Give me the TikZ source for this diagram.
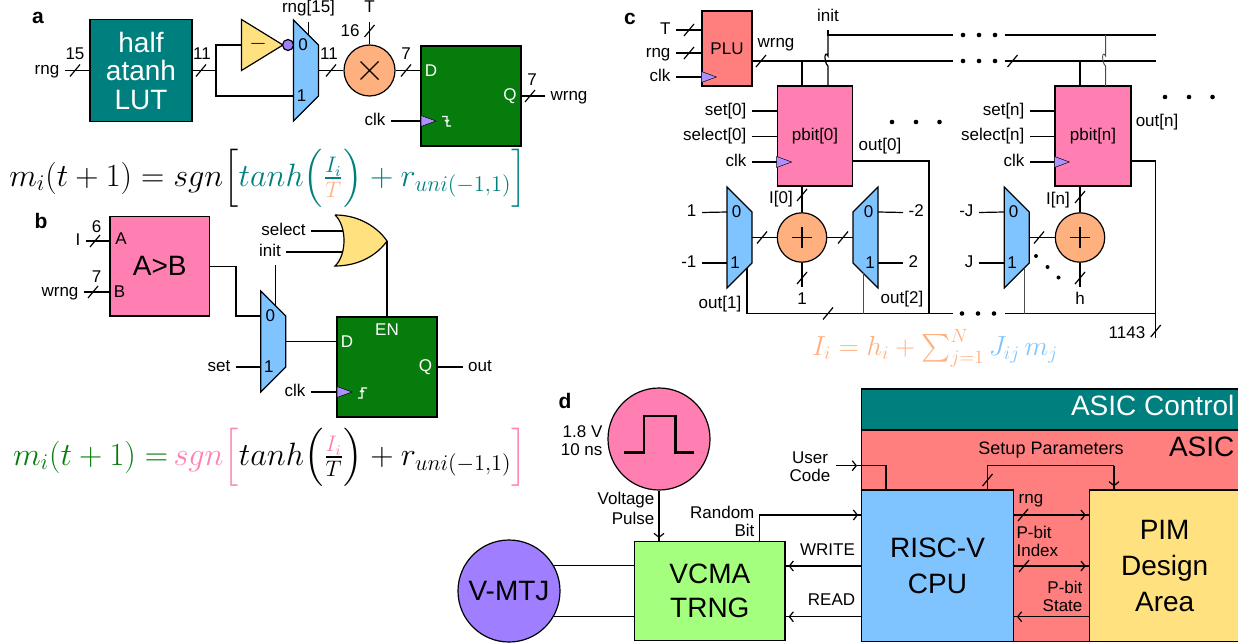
\documentclass[tikz,border=0pt]{standalone}
\usepackage{amsmath}
\usepackage[no-math]{fontspec}
\setmainfont{Liberation Sans}
\usetikzlibrary{arrows.meta, calc}
\definecolor{cteal}{HTML}{007F7F}
\definecolor{cgreen}{HTML}{067C0D}
\definecolor{cpink}{HTML}{FF7FB2}
\definecolor{csalmon}{HTML}{FF7F7F}
\definecolor{cblue}{HTML}{7FC4FF}
\definecolor{cyellow}{HTML}{FFE27F}
\definecolor{corange}{HTML}{FFB07F}
\definecolor{cpurple}{HTML}{9F7FFF}
\definecolor{clime}{HTML}{A5FF7F}

\begin{document}
\begin{tikzpicture}[x=1pt, y=-1pt, line width=1.2pt, font=\fontsize{17}{18}\selectfont,
    lbl/.style={inner sep=5pt, text height=12pt, text depth=3.5pt},
    txt/.style={inner sep=0pt, align=center},
    big/.style={font=\fontsize{28}{36}\selectfont, align=center, inner sep=0pt},
    panel/.style={font=\fontsize{21}{22}\selectfont\bfseries, inner sep=0pt},
    box/.style={draw, rectangle, inner sep=0pt},
    disc/.style={draw, circle, inner sep=0pt},
    whitetxt/.style={txt, text=white},
    thinwire/.style={line width=.9pt, black!70},
    arr/.style={postaction={draw, shorten >=3pt, -{Straight Barb[length=4pt, width=10pt]}}},
    busslash/.pic={\draw (-5,6) -- (5,-6);},
    clktri/.pic={\draw[fill=cpurple!85!white, line width=.5pt] (0,-5.5) -- (15,0) -- (0,5.5) -- cycle;},
    muxr/.pic={
      \draw[fill=cblue] (-12.5,-50.5) -- (12.5,-25.5) -- (12.5,25.5) -- (-12.5,50.5) -- cycle;
      \node[txt] at (-3,-25.5) {0};
      \node[txt] at (-4.5,25.5) {1};
      \coordinate (-in0) at (-12.5,-25.5);
      \coordinate (-in1) at (-12.5,25.5);
      \coordinate (-out) at (12.5,0);
      \coordinate (-t) at (2.5,-35.5);
      \coordinate (-b) at (2.5,35.5);
      \coordinate (-c) at (7.5,30.5);
    }]
    \useasboundingbox (0,0) rectangle (1238,644);

    % a
    \node[panel] (pa) at (38,18) {a};
    \node[box, fill=cteal, minimum width=102pt, minimum height=102pt, text=white, font=\fontsize{28}{28.5}\selectfont, align=center] (lut) at (141,70.5) {half\\atanh\\LUT};
    \node[lbl] (lrnga) at (47,70.5) {rng};
    \node[txt] (n15) at (75,54) {15};
    \node[txt] (n11a) at (202,54) {11};
    \coordinate (ja) at (216,70.5);
    \coordinate (invin) at (241.5,45);
    \pic (ma) at (306,70.5) {muxr};
    \draw (lrnga.east) -- (lrnga.east -| lut.west);
    \draw (lut.east) -- (ja);
    \draw (ja) |- (invin);
    \draw (ja) |- (ma-in1);
    \draw[fill=cyellow] (241.5,19.5) -- (283,45) -- (241.5,70.5) -- cycle;
    \node[txt, scale=1.3] (minus) at (258,44) {$-$};
    \node[disc, fill=cpurple, minimum size=11pt] (bub) at (288,45) {};
    \node[lbl] (lsela) at (308.5,8.5) {rng[15]};
    \draw (ma-t |- lsela.south) -- (ma-t);
    \node[disc, fill=corange, minimum size=51pt] (mula) at (369.5,70.5) {};
    \draw (mula.center) +(-9,-9) -- +(9,9) (mula.center) +(-9,9) -- +(9,-9);
    \node[lbl] (lTa) at (369.5,8.5) {T};
    \draw (lTa.south) -- (mula.north);
    \node[txt] (n16) at (350,31) {16};
    \node[box, fill=cgreen, minimum width=100pt, minimum height=100pt] (ffa) at (471,96) {};
    \draw (ma-out) -- (mula.west);
    \draw (mula.east) -- (mula.east -| ffa.west);
    \node[txt] (n11b) at (329,54) {11};
    \node[txt] (n7a) at (406,54) {7};
    \node[whitetxt] (da) at (431,71) {D};
    \node[whitetxt] (qa) at (510,96.5) {Q};
    \node[lbl] (lwrnga) at (569,96) {wrng};
    \draw (ffa.east) -- (lwrnga.west);
    \node[txt] (n7b) at (532,80) {7};
    \node[lbl] (lclka) at (375,121) {clk};
    \draw (lclka.east) -- (lclka.east -| ffa.west);
    \pic at (421,121) {clktri};
    \draw[white] (442,116.5) -- (447,116.5) -- (447,126) -- (451,126) (445,120) -- (447,122) -- (449,120);
    \foreach \x/\y in {75/70.5, 201/70.5, 331/70.5, 406/70.5, 530/96, 369.5/31} \pic at (\x,\y) {busslash};
    \node[scale=1.87] (eqa) at (268,178) {$m_i(t+1)=sgn\Bigl[\textcolor{cteal}{tanh\Bigl(\frac{I_i}{\textcolor{corange}{T}}\Bigr)+r_{uni(-1,1)}\Bigr]}$};

    % b
    \node[panel] (pb) at (41,221) {b};
    \node[box, fill=cpink, minimum width=99.5pt, minimum height=99.5pt, big] (cmp) at (159.75,266.25) {A>B};
    \node[lbl] (lI) at (78,241) {I};
    \node[lbl] (lwrngb) at (60,292) {wrng};
    \draw (lI.east) -- (lI.east -| cmp.west);
    \draw (lwrngb.east) -- (lwrngb.east -| cmp.west);
    \pic at (95,241) {busslash};
    \pic at (93,292) {busslash};
    \node[txt] (n6) at (96.5,227) {6};
    \node[txt] (n7c) at (96.5,277) {7};
    \node[txt] (ca) at (121,239) {A};
    \node[txt] (cb) at (119.5,292) {B};
    \pic (mb) at (273.25,341.5) {muxr};
    \coordinate (bw) at (236,316);
    \draw (cmp.east) -| (bw) -- (mb-in0);
    \node[lbl] (lselect) at (283.5,231) {select};
    \node[lbl] (linit) at (270,252) {init};
    \coordinate (orin1) at (343,231);
    \coordinate (orin2) at (344,252);
    \coordinate (ortip) at (387,241);
    \draw (lselect.east) -- (orin1);
    \draw (linit.east) -- (orin2);
    \draw (linit.south -| mb-t) -- (mb-t);
    \draw[fill=cyellow] (335,215) .. controls (360,215) and (378,228) .. (ortip) .. controls (378,254) and (360,266) .. (335,266) .. controls (347,255) and (347,226) .. (335,215);
    \node[box, fill=cgreen, minimum width=100pt, minimum height=100pt] (ffb) at (387,367) {};
    \draw (ortip) -- (ffb.north);
    \draw (mb-out) -- (mb-out -| ffb.west);
    \node[whitetxt] (db) at (347,342) {D};
    \node[whitetxt] (enb) at (387,329.5) {EN};
    \node[whitetxt] (qb) at (425.5,367) {Q};
    \node[lbl] (lout) at (480,367) {out};
    \draw (ffb.east) -- (lout.west);
    \node[lbl] (lset) at (219,367) {set};
    \draw (lset.east) -- (mb-in1);
    \node[lbl] (lclkb) at (295,392) {clk};
    \draw (lclkb.east) -- (lclkb.east -| ffb.west);
    \pic at (337,392) {clktri};
    \draw[white] (358,398) -- (362,398) -- (362,388) -- (367,388) (360,392) -- (362,390) -- (364,392);
    \node[scale=1.87] (eqb) at (270,457) {$\textcolor{cgreen}{m_i(t+1)=}\,\textcolor{cpink}{sgn\Bigl[}tanh\Bigl(\frac{\textcolor{cpink}{I_i}}{T}\Bigr)+r_{uni(-1,1)}\textcolor{cpink}{\Bigr]}$};

    % c
    \node[panel] (pc) at (630,19) {c};
    \node[box, fill=csalmon, minimum width=50pt, minimum height=75pt] (plu) at (727,48.5) {PLU};
    \node[lbl, anchor=east] (lTc) at (676,30) {T};
    \node[lbl, anchor=east] (lrngc) at (676,53) {rng};
    \node[lbl, anchor=east] (lclkc) at (676,77) {clk};
    \draw (lTc.east) -- (lTc.east -| plu.west);
    \draw (lrngc.east) -- (lrngc.east -| plu.west);
    \draw (lclkc.east) -- (lclkc.east -| plu.west);
    \pic at (plu.west |- lclkc.east) {clktri};
    \node[txt] (lwrngc) at (776,45) {wrng};
    \node[lbl] (linitc) at (828,17) {init};

    \coordinate (wbusa) at (953,61);
    \coordinate (wbusb) at (1004.6,61);
    \coordinate (wbusc) at (1155.7,61);
    \coordinate (ibus0) at (828,35);
    \coordinate (ibusa) at (953,35);
    \coordinate (ibusb) at (1004.6,35);
    \coordinate (ibusc) at (1155.7,35);
    \coordinate (p0w) at (802,86);
    \coordinate (p0i) at (828,86);
    \coordinate (pnw) at (1080,86);
    \coordinate (pni) at (1105.6,86);
    \node[box, fill=cpink, minimum width=75.5pt, minimum height=100pt] (pb0) at (815,136) {pbit[0]};
    \node[box, fill=cpink, minimum width=76pt, minimum height=100pt] (pbn) at (1093,136) {pbit[n]};

    \draw (plu.east |- wbusa) -- (wbusa);
    \draw (wbusb) -- (wbusc);
    \draw (linitc.south) -- (ibus0) -- (ibusa);
    \draw (ibusb) -- (ibusc);
    \draw (p0w |- wbusa) -- (p0w);
    \draw (pnw |- wbusa) -- (pnw);
    \draw (p0i) -- ++(0,-20) .. controls +(-4,-3) and +(-4,-7) .. ++(0,-10) -- (ibus0);
    \draw[thinwire] (pni) -- ++(0,-20) .. controls +(-4,-3) and +(-4,-7) .. ++(0,-10) -- (pni |- ibusc);
    \foreach \x in {963,979,995} {
      \fill (\x,35) circle (2.3);
      \fill (\x,61) circle (2.3);
    }
    \foreach \x in {892,916,939.5} \fill (\x,122) circle (2.3);
    \foreach \x in {1165,1189,1212.5} \fill (\x,97) circle (2.3);
    \foreach \x/\y in {689/30, 689/53, 761/61, 1012.5/61} \pic at (\x,\y) {busslash};

    \node[lbl, anchor=east] (lset0) at (752,111) {set[0]};
    \node[lbl, anchor=east] (lsel0) at (752,136.5) {select[0]};
    \node[lbl, anchor=east] (lclk0) at (752,162) {clk};
    \node[lbl, anchor=east] (lsetn) at (1030,111) {set[n]};
    \node[lbl, anchor=east] (lseln) at (1030,136.5) {select[n]};
    \node[lbl, anchor=east] (lclkn) at (1030,162) {clk};
    \foreach \l in {lset0, lsel0, lclk0} \draw (\l.east) -- (\l.east -| pb0.west);
    \foreach \l in {lsetn, lseln, lclkn} \draw (\l.east) -- (\l.east -| pbn.west);
    \pic at (pb0.west |- lclk0.east) {clktri};
    \pic at (pbn.west |- lclkn.east) {clktri};
    \node[txt] (lout0) at (880,146) {out[0]};
    \node[txt] (loutn) at (1157,122) {out[n]};

    \pic (m1) at (739.5,237.5) {muxr};
    \pic[xscale=-1] (m2) at (865.5,237.5) {muxr};
    \pic (m3) at (1016.7,237.5) {muxr};
    \node[disc, fill=corange, minimum size=49.4pt] (add0) at (802,237.5) {};
    \node[disc, fill=corange, minimum size=49.4pt] (addn) at (1080,237.5) {};
    \foreach \a in {add0, addn} \draw (\a.center) +(-10,0) -- +(10,0) (\a.center) +(0,-10) -- +(0,10);
    \draw (m1-out) -- (add0.west);
    \draw (add0.east) -- (m2-out);
    \draw (m3-out) -- (addn.west);
    \draw (add0 |- pb0.south) -- (add0.north);
    \draw (addn |- pbn.south) -- (addn.north);
    \node[lbl] (lone) at (802,300) {1};
    \node[lbl] (lh) at (1080,300) {h};
    \draw (add0.south) -- (lone.north);
    \draw (addn.south) -- (lh.north);
    \node[lbl, anchor=east] (lp1) at (702,212.5) {1};
    \node[lbl, anchor=east] (lm1) at (702,263) {-1};
    \node[lbl, anchor=west] (lm2) at (903,212.5) {-2};
    \node[lbl, anchor=west] (lp2) at (903,263) {2};
    \node[lbl, anchor=east] (lmJ) at (979,212.5) {-J};
    \node[lbl, anchor=east] (lpJ) at (979,263) {J};
    \draw (lp1.east) -- (m1-in0);
    \draw (lm1.east) -- (m1-in1);
    \draw (lm2.west) -- (m2-in0);
    \draw (lp2.west) -- (m2-in1);
    \draw (lmJ.east) -- (m3-in0);
    \draw (lpJ.east) -- (m3-in1);
    \node[txt] (li0) at (781,199) {I[0]};
    \node[txt] (lin) at (1058,200.5) {I[n]};
    \node[txt] (lo1) at (720,304) {out[1]};
    \node[txt] (lo2) at (902,299) {out[2]};
    \node[txt] (l1143) at (1127,333) {1143};

    \coordinate (busb) at (953,313.5);
    \coordinate (busc) at (1005,313.5);
    \coordinate (busd) at (1155.7,313.5);
    \coordinate (busend) at (1155.7,338);
    \coordinate (o0) at (929,161);
    \coordinate (on) at (1155.7,161);
    \draw (m1-c) |- (busb);
    \draw (busc) -- (busd);
    \draw (pb0.east |- o0) -- (o0) -- (o0 |- busb);
    \draw (pbn.east |- on) -- (on) -- (busend);
    \draw[thinwire] (m2-b) -- (m2-b |- busb);
    \draw[thinwire] (m3-c) -- (m3-c |- busb);
    \foreach \x in {962,978,994} \fill (\x,313.5) circle (2.3);
    \foreach \x/\y in {1036/256, 1047.5/267, 1058.5/277.5} \fill (\x,\y) circle (2);
    \foreach \x/\y in {762/237.5, 843/237.5, 1039/237.5, 802/195, 1080/197, 802/278, 1080/278, 828/313.5, 1155.7/331} \pic at (\x,\y) {busslash};
    \node[scale=1.6, text=corange] (eqc) at (935,348) {$I_i=h_i+\sum_{j=1}^{N}\textcolor{cblue}{J_{ij}\,m_j}$};

    % d
    \node[panel] (pd) at (565,401) {d};
    \node[disc, fill=cpink, minimum size=102pt] (pulse) at (659,439) {};
    \draw[line width=2.5pt] (624,452.3) -- (644,452.3) -- (644,416) -- (675.7,416) -- (675.7,452.3) -- (694,452.3);
    \node[txt, align=right, anchor=east, font=\fontsize{17}{17.5}\selectfont] (lvolt) at (603,440.5) {1.8 V\\10 ns};
    \node[box, fill=clime, minimum width=150.3pt, minimum height=99pt, big, font=\fontsize{28}{34}\selectfont] (vcma) at (709.85,591.2) {VCMA\\TRNG};
    \node[disc, fill=cpurple, minimum size=102pt, big] (vmtj) at (509,591) {V-MTJ};
    \draw (vmtj.30) -- (vmtj.30 -| vcma.west);
    \draw (vmtj.-30) -- (vmtj.-30 -| vcma.west);
    \draw[arr] (pulse.south) -- (pulse.south |- vcma.north);
    \node[txt, align=right, anchor=east, font=\fontsize{17}{20}\selectfont] (lvp) at (655,508) {Voltage\\Pulse};
    \node[txt, align=right, anchor=east, font=\fontsize{17}{18}\selectfont] (lrb) at (755,521) {Random\\Bit};

    \node[box, fill=csalmon, minimum width=378.6pt, minimum height=211.5pt] (asic) at (1051,535.7) {};
    \node[box, fill=cteal, minimum width=378.6pt, minimum height=41pt] (ctrl) at (1051,409.5) {};
    \node[big, text=white, anchor=east] (lctrl) at (1235,405) {ASIC Control};
    \node[big, anchor=east] (lasic) at (1235,446.7) {ASIC};
    \node[txt, font=\fontsize{18}{19}\selectfont] (lsetup) at (1051,450) {Setup Parameters};
    \node[box, fill=cblue, minimum width=151.6pt, minimum height=151.5pt, big] (risc) at (937.5,565.75) {RISC-V\\CPU};
    \node[box, fill=cyellow, minimum width=150.7pt, minimum height=151.5pt, big] (pim) at (1164.65,565.75) {PIM\\Design\\Area};

    \coordinate (wry) at (900,566);
    \coordinate (rdy) at (900,616.7);
    \coordinate (rby) at (900,515);
    \coordinate (rbx) at (759.7,541.7);
    \coordinate (ua) at (857,465.7);
    \coordinate (ub) at (886,465.7);
    \coordinate (sa) at (987.3,465.7);
    \coordinate (sb) at (1114,465.7);
    \draw[arr] (rbx) |- (risc.west |- rby);
    \draw[arr] (risc.west |- wry) -- (vcma.east |- wry);
    \draw[arr] (risc.west |- rdy) -- (vcma.east |- rdy);
    \node[txt] (lwrite) at (827.5,550) {WRITE};
    \node[txt] (lread) at (831.5,600) {READ};
    \node[txt, inner sep=5pt] (lusr) at (810,467) {User\\Code};
    \draw (ua) -- (ub) -- (ub |- risc.north);
    \draw[-{Straight Barb[length=4pt, width=10pt]}] (lusr.east |- ua) -- (ua);
    \draw (sa |- risc.north) -- (sa) -- (sb);
    \draw[arr] (sb) -- (sb |- pim.north);
    \draw[arr] (risc.east |- rby) -- (pim.west |- rby);
    \draw[arr] (risc.east |- wry) -- (pim.west |- wry);
    \draw[arr] (pim.west |- rdy) -- (risc.east |- rdy);
    \foreach \x/\y in {987.5/480, 1023/515, 1024/566} \pic at (\x,\y) {busslash};
    \node[txt] (lrngd) at (1031,500.7) {rng};
    \node[txt, align=left, anchor=north west] (lidx) at (1016,526) {P-bit\\Index};
    \node[txt, align=right, anchor=east] (lst) at (1083,596.7) {P-bit\\State};
\end{tikzpicture}
\end{document}
